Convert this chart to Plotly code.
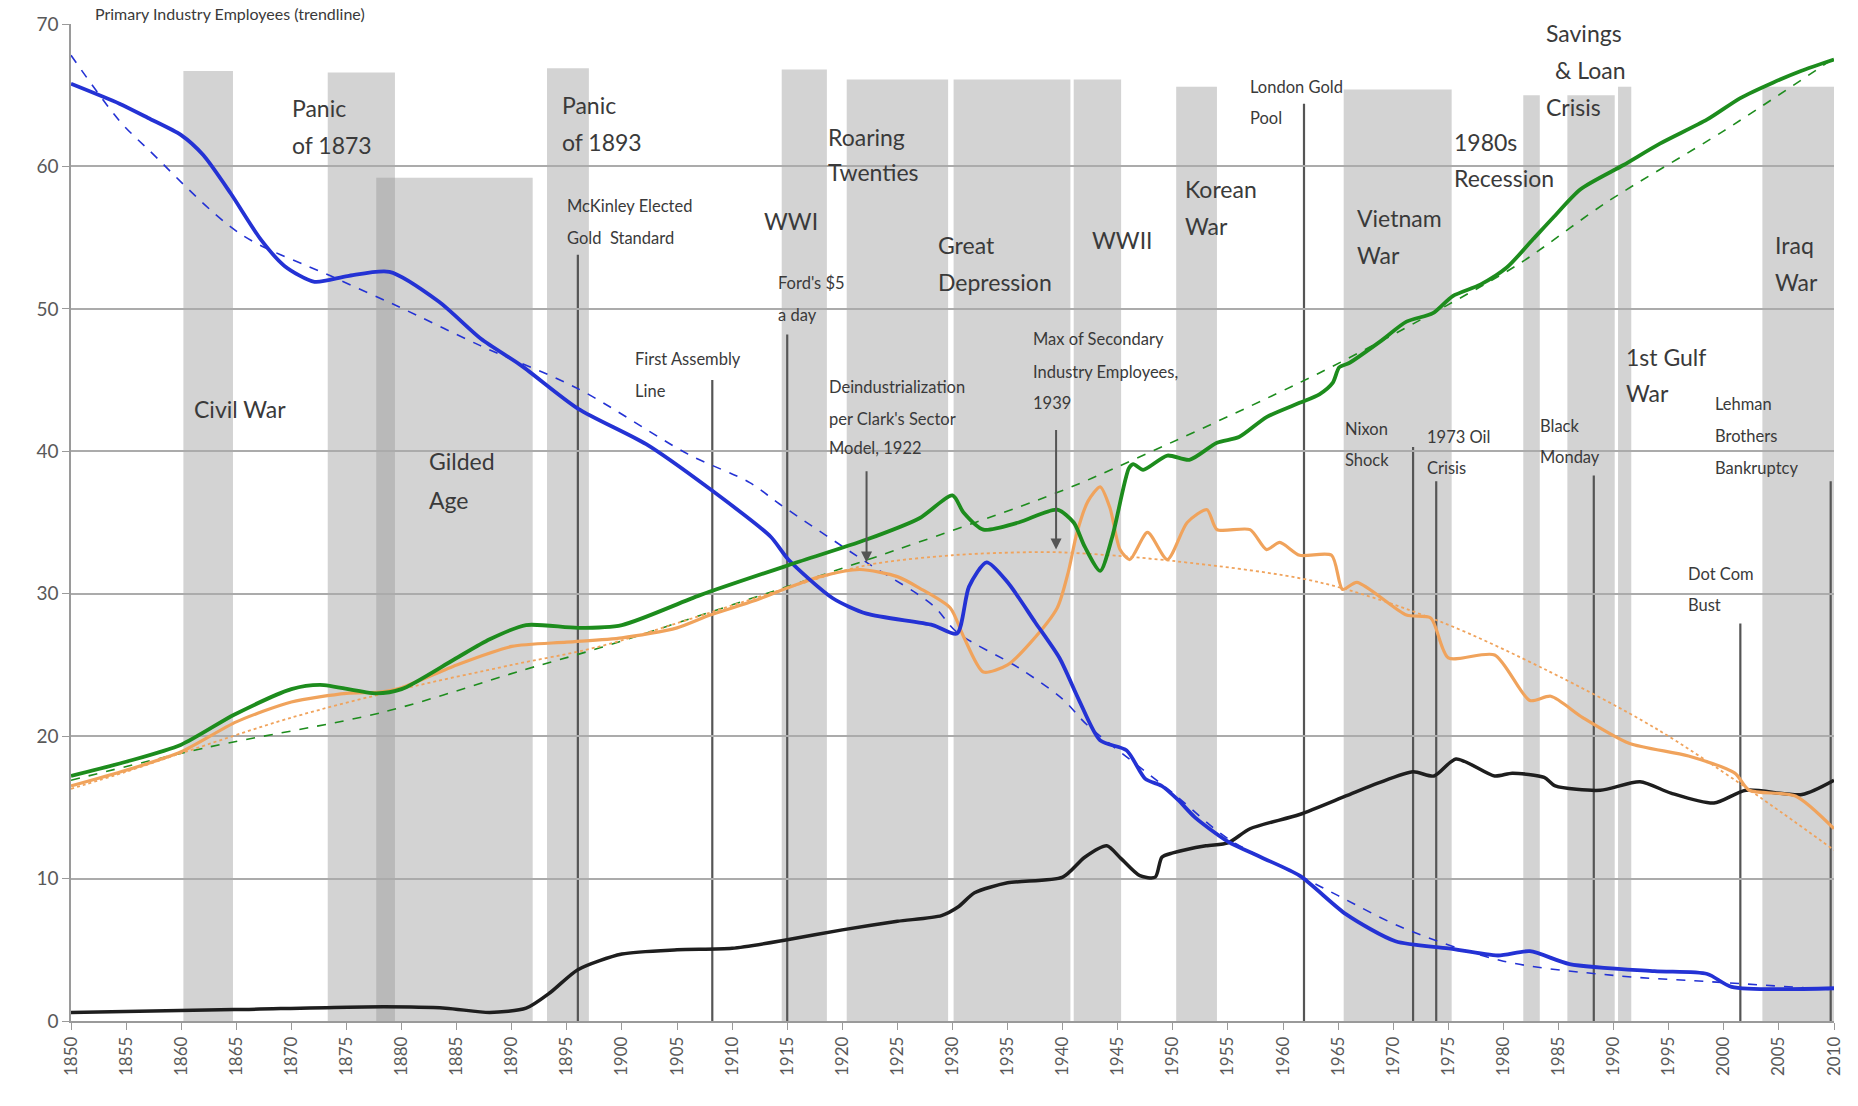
import plotly.graph_objects as go

# ---------------- data ----------------
primary_years = [1850, 1854.4, 1857, 1860, 1862, 1864.5, 1867.2, 1869.4, 1872.1, 1875.1, 1878.9, 1883.4, 1887.2,
                 1890.9, 1896, 1902.2, 1907.9, 1913.5, 1915.1, 1919.1, 1922.2, 1928.2, 1930.4, 1931.5, 1933.1,
                 1935, 1937.5, 1939.7, 1941.5, 1943.4, 1945.8, 1947.5, 1949, 1950.5, 1952, 1955, 1958, 1961.5,
                 1965.7, 1970.2, 1975, 1979.5, 1982.4, 1986, 1993.7, 1998.5, 2000.7, 2010]
primary_vals = [65.8, 64.4, 63.4, 62.2, 60.8, 58.1, 54.9, 53.0, 51.9, 52.3, 52.6, 50.5, 47.9,
                46.0, 43.0, 40.5, 37.4, 34.0, 32.4, 29.7, 28.6, 27.8, 27.2, 30.5, 32.2,
                30.8, 28.0, 25.5, 22.5, 19.7, 19.0, 17.0, 16.5, 15.5, 14.3, 12.6, 11.5, 10.2,
                7.5, 5.6, 5.1, 4.6, 4.9, 4.0, 3.5, 3.3, 2.4, 2.3]

primary_trend_years = [1850, 1854.4, 1857, 1865.3, 1873.6, 1879.6, 1887.2, 1896, 1906, 1911.6, 1914.3, 1922.2,
                       1928.2, 1930.4, 1936, 1940, 1942.2, 1950, 1955, 1961.5, 1965, 1971, 1980, 1990, 2000, 2010]
primary_trend_vals = [67.8, 63.2, 61.2, 55.3, 52.3, 50.2, 47.4, 44.4, 39.8, 37.8, 36.3, 32.2,
                      29.2, 27.3, 24.8, 22.6, 20.8, 16.0, 12.8, 10.2, 8.8, 6.5, 4.2, 3.2, 2.7, 2.2]

secondary_years = [1850, 1855, 1860, 1865, 1870, 1875, 1878, 1880, 1885, 1890, 1895, 1900, 1905, 1908, 1912,
                   1915, 1918, 1921.6, 1925, 1927, 1929.8, 1931, 1932.8, 1935, 1937, 1939.5, 1940.5, 1941.3,
                   1942.3, 1943.4, 1944.3, 1945.2, 1946.1, 1947.7, 1949.5, 1951.3, 1953.1, 1954, 1957, 1958.5,
                   1959.7, 1961.5, 1964.4, 1965.4, 1966.7, 1971.2, 1973.4, 1975, 1979.2, 1982.4, 1984.3, 1987.2,
                   1991.4, 1996.8, 2001, 2002.3, 2006.5, 2010]
secondary_vals = [16.5, 17.6, 18.9, 21.0, 22.4, 23.0, 23.1, 23.4, 25.0, 26.3, 26.6, 26.9, 27.6, 28.5, 29.5,
                  30.4, 31.2, 31.7, 31.2, 30.4, 29.0, 27.0, 24.5, 25.0, 26.5, 29.0, 31.5, 34.3,
                  36.5, 37.5, 36.0, 33.1, 32.4, 34.3, 32.4, 35.0, 35.9, 34.5, 34.5, 33.1,
                  33.6, 32.7, 32.7, 30.3, 30.8, 28.5, 28.3, 25.5, 25.7, 22.5, 22.8, 21.3,
                  19.5, 18.6, 17.4, 16.2, 15.8, 13.5]

secondary_trend_years = [1850, 1855, 1860, 1870, 1880, 1890, 1898, 1915, 1922.2, 1930, 1936, 1940, 1950,
                         1963.3, 1974.4, 1984, 1993.7, 2001.8, 2010]
secondary_trend_vals = [16.3, 17.5, 18.8, 21.3, 23.3, 25.0, 26.3, 30.4, 32.0, 32.7, 32.9, 32.9, 32.3,
                        30.8, 28.0, 24.6, 20.6, 16.5, 12.0]

tertiary_years = [1850, 1855, 1860, 1864.8, 1870, 1872.6, 1877.7, 1880, 1884.8, 1888, 1891.3, 1896, 1900,
                  1907.1, 1915.1, 1922.2, 1927, 1930, 1931, 1932.8, 1936, 1939.5, 1941, 1942, 1943.4, 1944.5,
                  1946.0, 1946.4, 1947.3, 1949.5, 1951.5, 1954, 1956, 1958.5, 1961.5, 1963.3, 1964.5, 1965.1,
                  1966, 1968.8, 1971.2, 1973.6, 1975.4, 1977.9, 1980.3, 1982.7, 1984.5, 1987, 1990.9, 1994.2,
                  1998.5, 2001.5, 2004.5, 2007, 2010]
tertiary_vals = [17.2, 18.2, 19.4, 21.5, 23.3, 23.6, 23.0, 23.3, 25.4, 26.8, 27.8, 27.6, 27.8,
                 29.9, 32.0, 33.8, 35.3, 36.9, 35.7, 34.5, 35.0, 35.9, 35.0, 33.3, 31.6, 34.0,
                 38.8, 39.1, 38.7, 39.7, 39.4, 40.6, 41.0, 42.4, 43.4, 44.0, 44.8, 45.9,
                 46.2, 47.7, 49.1, 49.7, 50.9, 51.7, 52.9, 54.9, 56.4, 58.4, 60.1, 61.6,
                 63.3, 64.8, 65.9, 66.7, 67.5]

tertiary_trend_years = [1850, 1862.3, 1878.4, 1891.3, 1898, 1915, 1925, 1939.5, 1946.4, 1963.3, 1975,
                        1981.5, 1989.4, 2000, 2010]
tertiary_trend_vals = [16.9, 19.2, 21.7, 24.7, 26.2, 30.5, 33.1, 37.1, 39.4, 45.5, 50.3,
                       53.2, 57.5, 62.5, 67.6]

quaternary_years = [1850, 1864.8, 1878.4, 1884, 1888, 1891.3, 1893.5, 1896, 1900, 1905, 1910, 1915, 1920,
                    1925, 1929, 1930.5, 1932, 1935, 1940, 1942, 1944, 1945.3, 1947, 1948.4, 1949, 1950, 1953,
                    1955, 1957, 1961.5, 1965.7, 1968.6, 1971.8, 1973.7, 1975.7, 1979.2, 1980.8, 1983.7,
                    1984.7, 1988.8, 1992.4, 1995.2, 1999.1, 2002, 2007.1, 2010]
quaternary_vals = [0.6, 0.8, 1.0, 0.9, 0.6, 0.9, 2.0, 3.6, 4.7, 5.0, 5.1, 5.7, 6.4,
                   7.0, 7.4, 8.0, 9.0, 9.7, 10.1, 11.5, 12.3, 11.4, 10.2, 10.1, 11.5, 11.8, 12.3,
                   12.5, 13.5, 14.5, 15.8, 16.7, 17.5, 17.2, 18.4, 17.2, 17.4, 17.1,
                   16.5, 16.2, 16.8, 16.0, 15.3, 16.2, 15.9, 16.9]

# shaded periods: start year, end year, height
period_start = [1860.2, 1873.3, 1877.7, 1893.2, 1914.5, 1920.4, 1930.1, 1941.0, 1950.3, 1965.5, 1981.8,
                1985.8, 1990.4, 2003.5]
period_end = [1864.7, 1879.4, 1891.9, 1897.0, 1918.6, 1929.6, 1940.7, 1945.3, 1954.0, 1975.3, 1983.3,
              1990.1, 1991.6, 2010.0]
period_top = [66.7, 66.6, 59.2, 66.9, 66.8, 66.1, 66.1, 66.1, 65.6, 65.4, 65.0, 65.0, 65.6, 65.6]

# single events: year, top of marker line
event_years = [1896.0, 1908.2, 1915.0, 1961.9, 1971.8, 1973.9, 1988.2, 2001.5, 2009.7]
event_tops = [53.8, 45.0, 48.2, 64.4, 40.3, 37.9, 38.3, 27.9, 37.9]

# arrow events: year, arrow start (top), arrow tip
arrow_years = [1922.2, 1939.4]
arrow_from = [38.7, 41.6]
arrow_to = [32.2, 33.1]

# labels: lines, x year, y values per line
big_labels = [
    (["Panic", "of 1873"], 1869.9, [64.1, 61.5]),
    (["Panic", "of 1893"], 1894.4, [64.3, 61.7]),
    (["Civil War"], 1861.0, [43.0]),
    (["Gilded", "Age"], 1882.3, [39.3, 36.6]),
    (["WWI"], 1912.7, [56.2]),
    (["Roaring", "Twenties"], 1918.5, [62.1, 59.6]),
    (["Great", "Depression"], 1928.5, [54.5, 51.9]),
    (["WWII"], 1942.5, [54.8]),
    (["Korean", "War"], 1950.9, [58.4, 55.8]),
    (["Vietnam", "War"], 1966.5, [56.4, 53.8]),
    (["1980s", "Recession"], 1975.3, [61.7, 59.2]),
    (["Savings"], 1983.7, [69.4]),
    (["& Loan"], 1984.5, [66.8]),
    (["Crisis"], 1983.7, [64.2]),
    (["Iraq", "War"], 2004.5, [54.5, 51.9]),
    (["1st Gulf", "War"], 1990.9, [46.6, 44.1]),
]
small_labels = [
    (["McKinley Elected", "Gold  Standard"], 1894.8, [57.2, 55.0]),
    (["Ford's $5", "a day"], 1914.0, [51.8, 49.6]),
    (["First Assembly", "Line"], 1901.0, [46.5, 44.2]),
    (["Deindustrialization", "per Clark's Sector", "Model, 1922"], 1918.6, [44.5, 42.3, 40.2]),
    (["Max of Secondary", "Industry Employees,", "1939"], 1937.1, [47.9, 45.6, 43.4]),
    (["London Gold", "Pool"], 1956.8, [65.6, 63.4]),
    (["Nixon", "Shock"], 1965.4, [41.6, 39.4]),
    (["1973 Oil", "Crisis"], 1972.9, [41.0, 38.8]),
    (["Black", "Monday"], 1983.1, [41.8, 39.6]),
    (["Lehman", "Brothers", "Bankruptcy"], 1999.0, [43.3, 41.1, 38.8]),
    (["Dot Com", "Bust"], 1996.6, [31.4, 29.2]),
]

x_ticks = list(range(1850, 2011, 5))
y_ticks = list(range(0, 71, 10))

# ---------------- figure ----------------
FONT = "Lato, 'Open Sans', sans-serif"
TXT = "#3a3a3a"

fig = go.Figure()

def add_line(x, y, color, width, dash="solid", smooth=0.7):
    fig.add_trace(go.Scatter(x=x, y=y, mode="lines", showlegend=False, hoverinfo="skip",
                             line=dict(color=color, width=width, dash=dash,
                                       shape="spline", smoothing=smooth)))

BLUE = "#2432d4"
GREEN = "#1d8c1d"
ORANGE = "#f0a35c"
BLACK = "#1e1e1e"

add_line(primary_trend_years, primary_trend_vals, BLUE, 1.6, "dash", 0.9)
add_line(tertiary_trend_years, tertiary_trend_vals, GREEN, 1.6, "dash", 0.9)
add_line(secondary_trend_years, secondary_trend_vals, ORANGE, 1.8, "dot", 0.9)
add_line(quaternary_years, quaternary_vals, BLACK, 3.5)
add_line(secondary_years, secondary_vals, ORANGE, 3.2)
add_line(primary_years, primary_vals, BLUE, 3.8)
add_line(tertiary_years, tertiary_vals, GREEN, 3.8)

shapes = []
for s, e, t in zip(period_start, period_end, period_top):
    shapes.append(dict(type="rect", xref="x", yref="y", x0=s, x1=e, y0=0, y1=t,
                       fillcolor="rgba(150,150,150,0.42)", line=dict(width=0), layer="below"))
for yr, top in zip(event_years, event_tops):
    shapes.append(dict(type="line", xref="x", yref="y", x0=yr, x1=yr, y0=0, y1=top,
                       line=dict(color="#555555", width=2.2), layer="below"))
fig.update_layout(shapes=shapes)

annotations = []
for yr, y0, y1 in zip(arrow_years, arrow_from, arrow_to):
    annotations.append(dict(x=yr, y=y1, ax=yr, ay=y0, xref="x", yref="y", axref="x", ayref="y",
                            text="", showarrow=True, arrowhead=2, arrowsize=1.1, arrowwidth=2,
                            arrowcolor="#555555"))
for lines, x, ys in big_labels:
    for ln, yv in zip(lines, ys):
        annotations.append(dict(x=x, y=yv, xref="x", yref="y", text=ln, showarrow=False,
                                xanchor="left", yanchor="middle",
                                font=dict(family=FONT, size=23, color=TXT)))
for lines, x, ys in small_labels:
    for ln, yv in zip(lines, ys):
        annotations.append(dict(x=x, y=yv, xref="x", yref="y", text=ln, showarrow=False,
                                xanchor="left", yanchor="middle",
                                font=dict(family=FONT, size=16.5, color=TXT)))
annotations.append(dict(x=0.0125, y=1, xref="paper", yref="paper", yshift=11,
                        text="Primary Industry Employees (trendline)", showarrow=False,
                        xanchor="left", yanchor="middle",
                        font=dict(family=FONT, size=16, color=TXT)))
fig.update_layout(annotations=annotations)

fig.update_layout(
    width=1858, height=1106,
    margin=dict(l=71, r=24, t=20, b=85),
    paper_bgcolor="white", plot_bgcolor="white",
    font=dict(family=FONT, color="#595959"),
    showlegend=False,
    xaxis=dict(range=[1850, 2010], tickvals=x_ticks, ticktext=[str(v) for v in x_ticks],
               tickangle=-90, tickfont=dict(size=17, color="#595959"),
               showgrid=False, zeroline=False, showline=True, linecolor="#9a9a9a", linewidth=1.5,
               ticks="outside", ticklen=7, tickcolor="#9a9a9a"),
    yaxis=dict(range=[0, 70], tickvals=y_ticks, tickfont=dict(size=19, color="#595959"),
               showgrid=True, gridcolor="#ababab", gridwidth=1.5, zeroline=False,
               showline=True, linecolor="#9a9a9a", linewidth=1.5,
               ticks="outside", ticklen=7, tickcolor="#9a9a9a"),
)

fig.write_html("out.html", config={"displayModeBar": False},
               post_script="document.body.style.margin='0';")
